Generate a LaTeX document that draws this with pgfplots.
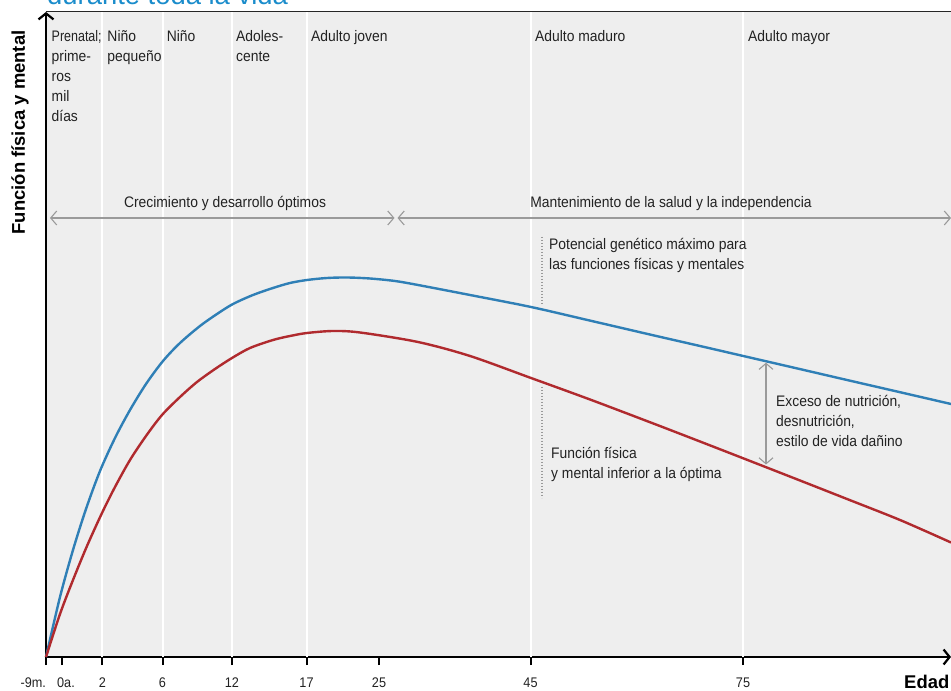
\documentclass[border=0pt]{standalone}
\usepackage{pgfplots}
\pgfplotsset{compat=1.18}
\usepackage{graphicx}
\usetikzlibrary{arrows.meta}
\usepackage{fontspec}
\setmainfont{Liberation Sans}[FakeStretch=0.91]
\newfontfamily\titlefont{Liberation Sans}

\definecolor{bg}{HTML}{EEEEEE}
\definecolor{cblue}{HTML}{2F7FB6}
\definecolor{cred}{HTML}{B02A2E}
\definecolor{annot}{HTML}{9A9A9A}
\definecolor{ttl}{HTML}{1A8CCB}
\definecolor{txt}{HTML}{222222}

\newcommand\lbl{\fontsize{15.3}{20}\selectfont}
\tikzset{
  barb/.tip={Straight Barb[length=6bp,width=14bp]},
  lab/.style={anchor=north west, align=left, inner sep=0pt, font=\lbl, text=txt},
}

\begin{document}
\begin{tikzpicture}
\begin{axis}[
  at={(0,0)}, anchor=south west,
  scale only axis, width=905bp, height=645bp,
  xmin=46, xmax=951, ymin=34, ymax=679,
  axis x line=bottom, axis y line=left,
  axis line style={line width=2.4bp, -{Straight Barb[length=6bp,width=15bp,line width=2.2bp]}},
  axis background/.style={fill=bg},
  xtick={46,62.5,102.5,162.5,232,306.5,379,530.5,743},
  xticklabels={\llap{-9m.},\hspace*{7bp}0a.,2,6,12,17,25,45,75},
  ytick=\empty,
  tick align=outside, major tick length=8bp,
  every tick/.style={black, line width=2bp},
  xticklabel style={font=\fontsize{14}{14}\selectfont, text=txt, inner sep=0pt, yshift=-13bp},
  /pgf/number format/assume math mode=true,
  clip=false,
]
% stage separators
\draw[white, line width=2bp] (axis cs:102.5,34) -- (axis cs:102.5,679);
\draw[white, line width=2bp] (axis cs:162.5,34) -- (axis cs:162.5,679);
\draw[white, line width=2bp] (axis cs:232,34) -- (axis cs:232,679);
\draw[white, line width=2bp] (axis cs:306.5,34) -- (axis cs:306.5,679);
\draw[white, line width=2bp] (axis cs:530.5,34) -- (axis cs:530.5,679);
\draw[white, line width=2bp] (axis cs:743,34) -- (axis cs:743,679);
\draw[black!85, line width=1bp] (axis cs:46,679) -- (axis cs:951,679);

% optimal potential
\addplot[cblue, line width=2.4bp, smooth] coordinates {
  (46,34) (60,94) (73,141) (86,182) (100,220) (115,253) (130,281)
  (146,307) (163,330) (180,348) (200,365) (217,377) (233,387)
  (253,396) (273,403) (290,408) (307,411) (327,413) (347,413.5)
  (370,412.5) (395,410) (418,406) (470,396) (531,384) (590,370.4)
  (652,356) (700,345) (745,334.6) (800,321.9) (847,311) (900,298.8) (951,287)
};
% sub-optimal
\addplot[cred, line width=2.4bp, smooth] coordinates {
  (46,34) (60,77) (73,111) (87,145) (102,178) (115,204) (130,231)
  (146,255) (162,276) (180,294) (197,309) (215,322) (232,333)
  (250,343) (273,351) (290,355) (307,358) (333,360) (360,358.5)
  (418,349) (470,335) (531,313) (590,291.5) (652,268) (700,249.5)
  (745,232) (800,210.5) (847,192) (900,171) (951,148.5)
};

% stages
\node[lab] at (axis cs:51.5,660.5) {\scalebox{0.9}[1]{Prenatal;}\\prime-\\ros\\mil\\días};
\node[lab] at (axis cs:107.3,660.5) {Niño\\pequeño};
\node[lab] at (axis cs:166.7,660.5) {Niño};
\node[lab] at (axis cs:236,660.5) {Adoles-\\cente};
\node[lab] at (axis cs:311,660.5) {Adulto joven};
\node[lab] at (axis cs:535,660.5) {Adulto maduro};
\node[lab] at (axis cs:748,660.5) {Adulto mayor};

% phases
\draw[annot, line width=1.1bp, barb-barb] (axis cs:50,473) -- (axis cs:394.5,473);
\draw[annot, line width=1.1bp, barb-barb] (axis cs:397.5,473) -- (axis cs:951,473);
\node[anchor=base, inner sep=0pt, font=\lbl, text=txt] at (axis cs:225,483) {Crecimiento y desarrollo óptimos};
\node[anchor=base, inner sep=0pt, font=\lbl, text=txt] at (axis cs:671,483) {Mantenimiento de la salud y la independencia};

% annotations
\draw[annot, line width=1.3bp, dash pattern=on 1.3bp off 1.7bp] (axis cs:542,454) -- (axis cs:542,386);
\node[lab] at (axis cs:549,453.2) {Potencial genético máximo para\\las funciones físicas y mentales};
\draw[annot, line width=1.3bp, dash pattern=on 1.3bp off 1.7bp] (axis cs:542,304) -- (axis cs:542,193);
\node[lab] at (axis cs:551,244.2) {Función física\\y mental inferior a la óptima};
\draw[annot, line width=1.1bp, barb-barb] (axis cs:766,328.3) -- (axis cs:766,226.5);
\node[lab] at (axis cs:776,295.5) {Exceso de nutrición,\\desnutrición,\\estilo de vida dañino};

% axis titles
\node[rotate=90, inner sep=0pt, font=\titlefont\bfseries\fontsize{18.5}{18.5}\selectfont, text=black] at (axis cs:20,558.5) {Función física y mental};
\node[anchor=base west, inner sep=0pt, font=\titlefont\bfseries\fontsize{18.5}{18.5}\selectfont, text=black] at (axis cs:904,3) {Edad};
\node[anchor=base west, inner sep=0pt, font=\titlefont\fontsize{27.5}{27.5}\selectfont, text=ttl] at (axis cs:47,686) {durante toda la vida};
\end{axis}
\pgfresetboundingbox
\path[use as bounding box] (-46bp,-34bp) rectangle (905bp,657bp);
\end{tikzpicture}
\end{document}
